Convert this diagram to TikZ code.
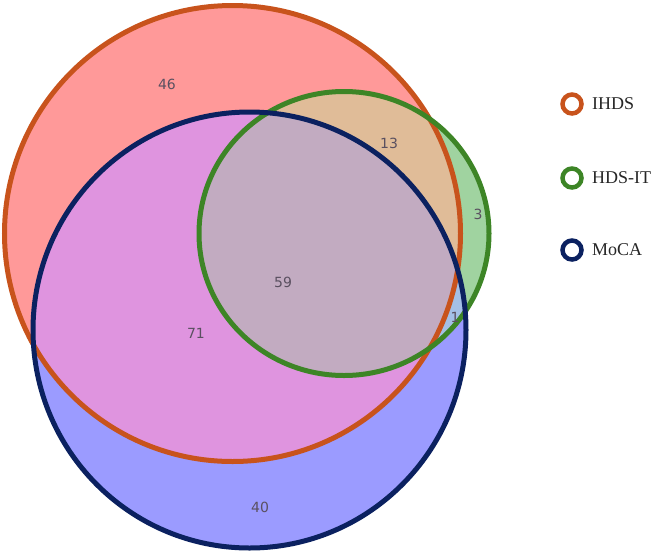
\documentclass[tikz,border=0pt]{standalone}
\usepackage{fontspec}
\setmainfont{Liberation Serif}
\newfontfamily\numfont{DejaVu Sans}
\definecolor{ihdsline}{HTML}{C8531C}
\definecolor{hdsline}{HTML}{3D8526}
\definecolor{mocaline}{HTML}{0B2160}
\definecolor{ihdsfill}{HTML}{FF9999}
\definecolor{hdsfill}{HTML}{A0D3A0}
\definecolor{mocafill}{HTML}{9B9BFF}
\definecolor{imfill}{HTML}{DF94DF}
\definecolor{ihfill}{HTML}{E0BC98}
\definecolor{hmfill}{HTML}{A4C0E6}
\definecolor{allfill}{HTML}{C2ABC1}
\definecolor{numcol}{HTML}{5A5060}
\tikzset{
  ring/.style={line width=5pt},
  num/.style={font=\numfont\fontsize{14}{16}\selectfont, text=numcol},
  legring/.style={circle, minimum size=19pt, inner sep=0pt, line width=4.5pt},
  legtext/.style={anchor=west, inner sep=0pt, font=\fontsize{18}{20}\selectfont, text=black!85}
}
\begin{document}
\begin{tikzpicture}[x=1pt,y=-1pt]
\useasboundingbox (0,0) rectangle (653,555);
\def\ihds{(232.5,233.5) circle [radius=228]}
\def\hds{(344,233.5) ellipse [x radius=145, y radius=142]}
\def\moca{(249.5,330) ellipse [x radius=216.5, y radius=218]}
% base fills
\fill[ihdsfill] \ihds;
\fill[mocafill] \moca;
\fill[hdsfill] \hds;
\begin{scope}
  \clip \ihds;
  \fill[imfill] \moca;
  \fill[ihfill] \hds;
\end{scope}
\begin{scope}
  \clip \moca;
  \fill[hmfill] \hds;
  \clip \ihds;
  \fill[allfill] \hds;
\end{scope}
% outlines
\draw[ring, ihdsline] \ihds;
\draw[ring, hdsline] \hds;
\draw[ring, mocaline] \moca;
% counts
\node[num] (n46) at (167,84) {46};
\node[num] (n13) at (389,143) {13};
\node[num] (n3) at (478,214) {3};
\node[num] (n59) at (283,282) {59};
\node[num] (n71) at (196,333) {71};
\node[num] (n1) at (455,317) {1};
\node[num] (n40) at (260,507) {40};
% legend
\node[legring, draw=ihdsline] (l1) at (572,104) {};
\node[legring, draw=hdsline] (l2) at (572,178) {};
\node[legring, draw=mocaline] (l3) at (572,250) {};
\node[legtext] (t1) at (592,104) {IHDS};
\node[legtext] (t2) at (592,178) {HDS-IT};
\node[legtext] (t3) at (592,250) {MoCA};
\end{tikzpicture}
\end{document}
